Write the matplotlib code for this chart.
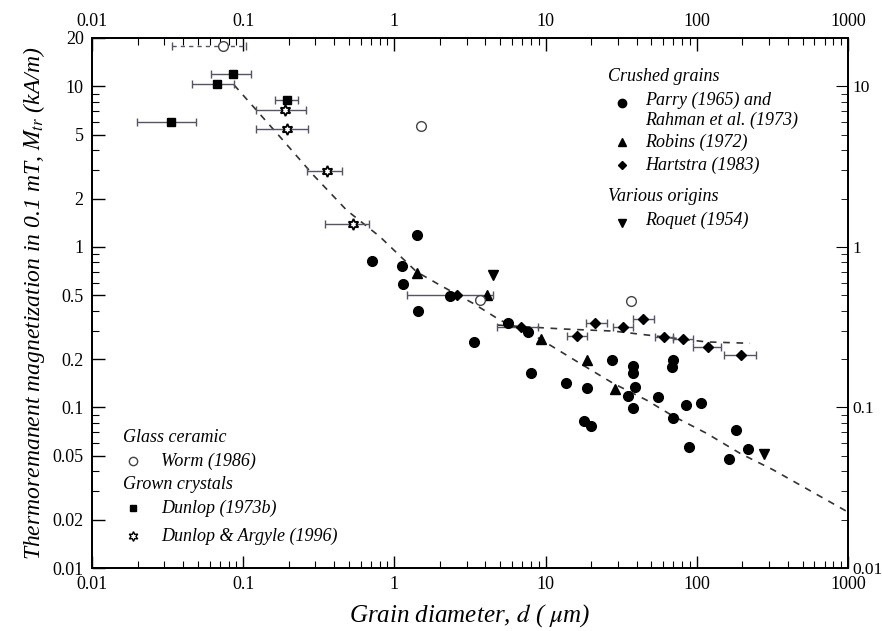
import numpy as np
import matplotlib
matplotlib.use("Agg")
import matplotlib.pyplot as plt
from matplotlib.ticker import LogLocator, NullFormatter, FixedLocator, FixedFormatter

plt.rcParams["font.family"] = ["Liberation Serif", "DejaVu Serif"]
plt.rcParams["mathtext.fontset"] = "stix"

# --- data (d in um, Mtr in kA/m) ---
# Worm (1986), glass ceramic
worm_d = [0.073, 1.5, 3.68, 36.5]
worm_m = [17.9, 5.65, 0.467, 0.46]
worm_lo = [0.034]  # dashed bar on first point only
worm_hi = [0.104]

# Dunlop (1973b)
dun_d = [0.0333, 0.0668, 0.086, 0.196]
dun_m = [5.98, 10.4, 12.0, 8.2]
dun_lo = [0.0199, 0.0458, 0.0613, 0.162]
dun_hi = [0.0488, 0.0870, 0.1126, 0.230]

# Dunlop & Argyle (1996)
da_d = [0.188, 0.194, 0.356, 0.530]
da_m = [7.1, 5.4, 2.97, 1.39]
da_lo = [0.121, 0.121, 0.263, 0.35]
da_hi = [0.26, 0.267, 0.45, 0.68]

# Parry (1965) and Rahman et al. (1973)
parry_d = [0.708, 1.13, 1.14, 1.40, 1.44, 2.33, 3.37, 5.66, 7.62, 7.97,
           13.6, 17.9, 18.9, 19.9, 27.4, 35.2, 37.7, 37.7, 38.0, 39.0,
           55.6, 69.3, 69.0, 69.3, 84.5, 88.4, 107, 163, 181.6, 217]
parry_m = [0.819, 0.759, 0.586, 1.18, 0.40, 0.494, 0.256, 0.337, 0.294, 0.163,
           0.143, 0.0822, 0.133, 0.0765, 0.197, 0.118, 0.182, 0.163, 0.0987, 0.135,
           0.117, 0.197, 0.178, 0.0863, 0.1035, 0.0569, 0.106, 0.0475, 0.0722, 0.0551]

# Robins (1972)
rob_d = [1.40, 4.11, 9.28, 18.7, 28.8]
rob_m = [0.69, 0.50, 0.265, 0.197, 0.130]

# Hartstra (1983)
hart_d = [2.61, 6.84, 16.2, 21.3, 32.4, 43.9, 60.9, 80.7, 118.6, 195]
hart_m = [0.50, 0.318, 0.279, 0.337, 0.318, 0.355, 0.275, 0.265, 0.239, 0.212]
hart_lo = [1.22, 4.79, 13.9, 18.4, 27.7, 37.6, 52.6, 69.6, 94.2, 151]
hart_hi = [4.5, 8.88, 18.9, 25.4, 37.9, 51.8, 69.7, 94.2, 145, 248]

# Roquet (1954)
roq_d = [4.47, 279]
roq_m = [0.667, 0.051]

# dashed trend curves
fit1_d = [0.087, 0.175, 0.291, 0.484, 0.803, 1.40, 2.0, 3.33, 4.99, 8.3,
          16.9, 28.1, 46.6, 69.6, 116, 193, 321, 1000]
fit1_m = [10.2, 4.85, 2.80, 1.69, 1.156, 0.70, 0.578, 0.444, 0.35, 0.283,
          0.188, 0.141, 0.111, 0.0884, 0.069, 0.0518, 0.0408, 0.0223]
fit2_d = [4.79, 13.1, 28.1, 60, 116, 225]
fit2_m = [0.326, 0.308, 0.299, 0.275, 0.256, 0.251]


def xerr(d, lo, hi):
    d = np.array(d)
    return [d - np.array(lo), np.array(hi) - d]


fig = plt.figure(figsize=(8.82, 6.31), dpi=100)
ax = fig.add_axes([0.1043, 0.0998, 0.8572, 0.8400])
ax.set_xscale("log")
ax.set_yscale("log")
ax.set_xlim(0.01, 1000)
ax.set_ylim(0.01, 20)

eb = dict(fmt="none", ecolor="#555566", elinewidth=1.0, capsize=3, capthick=1.0, zorder=2)

ax.plot(fit1_d, fit1_m, ls=(0, (4, 4)), color="#333333", lw=1.2, zorder=1)
ax.plot(fit2_d, fit2_m, ls=(0, (4, 4)), color="#333333", lw=1.2, zorder=1)

ax.errorbar(dun_d, dun_m, xerr=xerr(dun_d, dun_lo, dun_hi), **eb)
ax.errorbar(da_d, da_m, xerr=xerr(da_d, da_lo, da_hi), **eb)
ax.errorbar(hart_d, hart_m, xerr=xerr(hart_d, hart_lo, hart_hi), **eb)
e = ax.errorbar(worm_d[:1], worm_m[:1], xerr=xerr(worm_d[:1], worm_lo, worm_hi), **eb)
e[2][0].set_linestyle((0, (3, 3)))

ms = dict(color="black", ls="none", zorder=3)
ax.plot(parry_d, parry_m, marker="o", ms=7, **ms)
ax.plot(rob_d, rob_m, marker="^", ms=7, **ms)
ax.plot(hart_d, hart_m, marker="D", ms=5.5, **ms)
ax.plot(roq_d, roq_m, marker="v", ms=7, **ms)
ax.plot(dun_d, dun_m, marker="s", ms=6, **ms)
ax.plot(da_d, da_m, marker=(6, 1, 0), ms=8, mfc="white", mec="black", mew=1.3, ls="none", zorder=3)
ax.plot(worm_d, worm_m, marker="o", ms=7, mfc="white", mec="#444444", mew=1.0, ls="none", zorder=3)

# ticks
xt = [0.01, 0.1, 1, 10, 100, 1000]
xt_labels = ["0.01", "0.1", "1", "10", "100", "1000"]
yt = [0.01, 0.02, 0.05, 0.1, 0.2, 0.5, 1, 2, 5, 10, 20]
yt_labels = ["0.01", "0.02", "0.05", "0.1", "0.2", "0.5", "1", "2", "5", "10", "20"]
ax.xaxis.set_major_locator(FixedLocator(xt))
ax.xaxis.set_major_formatter(FixedFormatter(xt_labels))
ax.xaxis.set_minor_locator(LogLocator(base=10, subs=np.arange(2, 10)))
ax.xaxis.set_minor_formatter(NullFormatter())
ax.yaxis.set_major_locator(FixedLocator(yt))
ax.yaxis.set_major_formatter(FixedFormatter(yt_labels))
ax.yaxis.set_minor_locator(LogLocator(base=10, subs=np.arange(2, 10)))
ax.yaxis.set_minor_formatter(NullFormatter())
ax.tick_params(which="both", direction="in", top=True, labeltop=True,
               right=False, labelsize=13, pad=6)
ax.tick_params(which="major", length=9, width=1.0)
ax.tick_params(which="minor", length=5, width=0.8)

ax2 = ax.twinx()
ax2.set_yscale("log")
ax2.set_ylim(0.01, 20)
ax2.yaxis.set_major_locator(FixedLocator([0.01, 0.1, 1, 10]))
ax2.yaxis.set_major_formatter(FixedFormatter(["0.01", "0.1", "1", "10"]))
ax2.yaxis.set_minor_locator(LogLocator(base=10, subs=np.arange(2, 10)))
ax2.yaxis.set_minor_formatter(NullFormatter())
ax2.tick_params(which="both", direction="in", labelsize=12.5, pad=3)
ax2.tick_params(which="major", length=9)
ax2.tick_params(which="minor", length=5)

for a in (ax, ax2):
    for s in a.spines.values():
        s.set_linewidth(1.3)

ax.set_xlabel(r"Grain diameter, $d$ ( $\mu$m)", fontsize=18, style="italic", labelpad=6)
ax.set_ylabel(r"Thermoremanent magnetization in 0.1 mT, $M_{tr}$ (kA/m)",
              fontsize=17, style="italic", labelpad=4)

# legend blocks (text in axes fraction)
tk = dict(transform=ax.transAxes, fontsize=13, style="italic", va="center")
mk = dict(transform=ax.transAxes, color="black", ls="none", clip_on=False)


def fx(px):
    return (px - 92) / 756.0


def fy(py):
    return (568 - py) / 530.0


ax.text(fx(608), fy(77), "Crushed grains", **tk)
ax.plot(fx(622), fy(103), marker="o", ms=6, **mk)
ax.text(fx(645), fy(100), "Parry (1965) and", **tk)
ax.text(fx(645), fy(120), "Rahman et al. (1973)", **tk)
ax.plot(fx(622), fy(142), marker="^", ms=6, **mk)
ax.text(fx(645), fy(142), "Robins (1972)", **tk)
ax.plot(fx(622), fy(165), marker="D", ms=4.5, **mk)
ax.text(fx(645), fy(165), "Hartstra (1983)", **tk)
ax.text(fx(608), fy(197), "Various origins", **tk)
ax.plot(fx(622), fy(223), marker="v", ms=6, **mk)
ax.text(fx(645), fy(220), "Roquet (1954)", **tk)

ax.text(fx(123), fy(437), "Glass ceramic", **tk)
ax.plot(fx(133), fy(461), marker="o", ms=6, mfc="white", mec="#444444", **mk)
ax.text(fx(161), fy(461), "Worm (1986)", **tk)
ax.text(fx(123), fy(484), "Grown crystals", **tk)
ax.plot(fx(133), fy(508), marker="s", ms=4.5, **mk)
ax.text(fx(161), fy(508), "Dunlop (1973b)", **tk)
ax.plot(fx(133), fy(536), marker=(6, 1, 0), ms=7, mfc="white", mec="black", **mk)
ax.text(fx(161), fy(536), "Dunlop & Argyle (1996)", **tk)

fig.savefig("out.png", dpi=100)
